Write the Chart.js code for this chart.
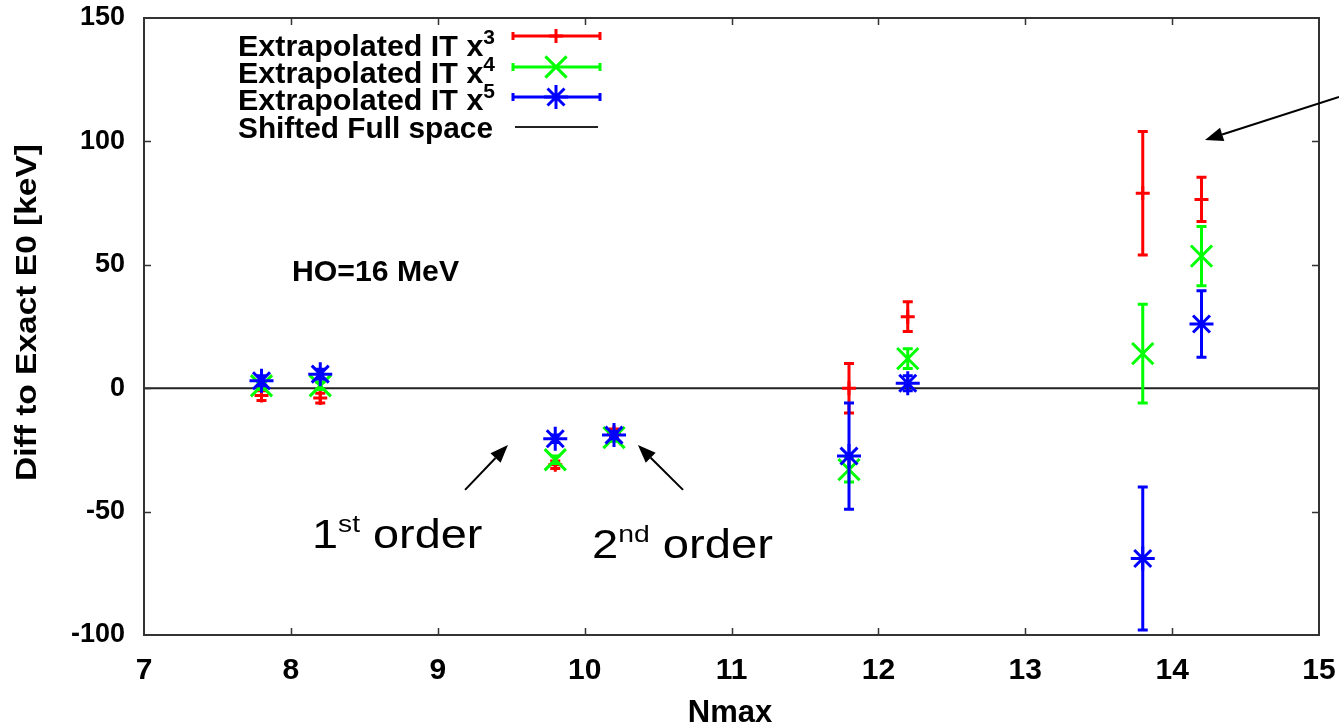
<!DOCTYPE html>
<html lang="en">
<head>
<meta charset="UTF-8">
<title>Diff to Exact E0 vs Nmax</title>
<script src="https://cdn.jsdelivr.net/npm/chart.js"></script>
<style>
  html, body { margin: 0; padding: 0; background: #fff; }
  #chart { display: block; }
</style>
</head>
<body>
<canvas id="chart" width="1339" height="727"></canvas>
<script>
// values (keV)
const nmax   = [7.8, 8.2, 9.8, 10.2, 11.8, 12.2, 13.8, 14.2];
const it3    = [-3, -4, -31, -18, 0, 29, 79, 76.5];
const it3Err = [2, 2, 1.5, 1.5, 10, 6, 25, 9];
const it4    = [1, 1, -29, -20, -33, 12, 14, 53.5];
const it4Err = [1.5, 1.5, 1.5, 1.5, 5, 4, 20, 12];
const it5    = [3, 5.7, -20.5, -19, -27.5, 2, -69, 26];
const it5Err = [2, 2, 1.5, 1.5, 21.5, 3, 29, 13.5];

const fullSpaceX = [7, 15];
const fullSpaceY = [0, 0];

const xTicks = [7, 8, 9, 10, 11, 12, 13, 14, 15];
const yTicks = [-100, -50, 0, 50, 100, 150];

const FONT = '"Liberation Sans", Arial, sans-serif';

function pts(xs, ys) {
    return xs.map((x, i) => ({ x: x, y: ys[i] }));
}

// text squeezed/stretched to a given width
function fitText(ctx, str, x, y, font, width, align) {
    ctx.save();
    ctx.font = font;
    const w = ctx.measureText(str).width;
    const sx = width ? width / w : 1;
    ctx.translate(x, y);
    ctx.scale(sx, 1);
    ctx.textAlign = align || 'left';
    ctx.textBaseline = 'alphabetic';
    ctx.fillText(str, 0, 0);
    ctx.restore();
}

// "1st order" style label: big number, superscript, rest
function ordinal(ctx, num, sup, rest, left, base, right) {
    ctx.save();
    const big = '40px ' + FONT, small = '24px ' + FONT;
    ctx.font = big;
    const w1 = ctx.measureText(num).width;
    const w3 = ctx.measureText(rest).width;
    ctx.font = small;
    const w2 = ctx.measureText(sup).width;
    const sx = (right - left) / (w1 + w2 + w3);
    ctx.translate(left, base);
    ctx.scale(sx, 1);
    ctx.fillStyle = '#000';
    ctx.textBaseline = 'alphabetic';
    ctx.font = big;
    ctx.fillText(num, 0, 0);
    ctx.font = small;
    ctx.fillText(sup, w1, -16);
    ctx.font = big;
    ctx.fillText(rest, w1 + w2, 0);
    ctx.restore();
}

function arrow(ctx, x1, y1, x2, y2) {
    const a = Math.atan2(y2 - y1, x2 - x1);
    const len = 18, hw = 7;
    const bx = x2 - len * Math.cos(a), by = y2 - len * Math.sin(a);
    ctx.save();
    ctx.strokeStyle = '#000';
    ctx.fillStyle = '#000';
    ctx.lineWidth = 2;
    ctx.beginPath();
    ctx.moveTo(x1, y1);
    ctx.lineTo(bx, by);
    ctx.stroke();
    ctx.beginPath();
    ctx.moveTo(x2, y2);
    ctx.lineTo(bx + hw * Math.sin(a), by - hw * Math.cos(a));
    ctx.lineTo(bx - hw * Math.sin(a), by + hw * Math.cos(a));
    ctx.closePath();
    ctx.fill();
    ctx.restore();
}

function errorBar(ctx, x, y1, y2, color) {
    ctx.save();
    ctx.strokeStyle = color;
    ctx.lineWidth = 3;
    ctx.beginPath();
    ctx.moveTo(x, y1); ctx.lineTo(x, y2);
    ctx.moveTo(x - 5, y1); ctx.lineTo(x + 5, y1);
    ctx.moveTo(x - 5, y2); ctx.lineTo(x + 5, y2);
    ctx.stroke();
    ctx.restore();
}

const errorBars = {
    id: 'errorBars',
    beforeDatasetDraw(chart, args) {
        const ds = chart.data.datasets[args.index];
        if (!ds.errors) return;
        const xs = chart.scales.x, ys = chart.scales.y;
        ds.data.forEach((p, i) => {
            const e = ds.errors[i];
            errorBar(chart.ctx, xs.getPixelForValue(p.x),
                ys.getPixelForValue(p.y - e), ys.getPixelForValue(p.y + e), ds.borderColor);
        });
    }
};

const frameAndText = {
    id: 'frameAndText',
    afterDraw(chart) {
        const ctx = chart.ctx, a = chart.chartArea;
        const xs = chart.scales.x, ys = chart.scales.y;

        // frame with inward mirror ticks
        ctx.save();
        ctx.strokeStyle = '#333';
        ctx.lineWidth = 2;
        ctx.strokeRect(a.left, a.top, a.right - a.left, a.bottom - a.top);
        ctx.lineWidth = 1.5;
        ctx.beginPath();
        xTicks.slice(1, -1).forEach(v => {
            const px = Math.round(xs.getPixelForValue(v)) + 0.5;
            ctx.moveTo(px, a.bottom); ctx.lineTo(px, a.bottom - 7);
            ctx.moveTo(px, a.top); ctx.lineTo(px, a.top + 7);
        });
        yTicks.slice(1, -1).forEach(v => {
            const py = Math.round(ys.getPixelForValue(v)) + 0.5;
            ctx.moveTo(a.left, py); ctx.lineTo(a.left + 7, py);
            ctx.moveTo(a.right, py); ctx.lineTo(a.right - 7, py);
        });
        ctx.stroke();
        ctx.restore();

        ctx.fillStyle = '#000';

        // axis titles
        fitText(ctx, 'Nmax', 730, 722, 'bold 31px ' + FONT, 0, 'center');
        ctx.save();
        ctx.translate(36, (a.top + a.bottom) / 2 - 14);
        ctx.rotate(-Math.PI / 2);
        fitText(ctx, 'Diff to Exact E0 [keV]', 0, 0, 'bold 30px ' + FONT, 337, 'center');
        ctx.restore();

        // legend
        const rows = [
            { sup: '3', ds: chart.data.datasets[0], line: 36, base: 56 },
            { sup: '4', ds: chart.data.datasets[1], line: 67, base: 83 },
            { sup: '5', ds: chart.data.datasets[2], line: 97, base: 110 }
        ];
        rows.forEach(r => {
            ctx.save();
            const bigF = 'bold 29px ' + FONT, supF = 'bold 20px ' + FONT;
            ctx.font = bigF;
            const wMain = ctx.measureText('Extrapolated IT x').width;
            ctx.font = supF;
            const wSup = ctx.measureText(r.sup).width;
            const sx = (495 - 238) / (wMain + wSup);
            ctx.translate(238, r.base);
            ctx.scale(sx, 1);
            ctx.font = bigF;
            ctx.fillText('Extrapolated IT x', 0, 0);
            ctx.font = supF;
            ctx.fillText(r.sup, wMain, -12);
            ctx.restore();

            ctx.save();
            ctx.strokeStyle = r.ds.borderColor;
            ctx.lineWidth = 3;
            ctx.beginPath();
            ctx.moveTo(513, r.line); ctx.lineTo(600, r.line);
            ctx.moveTo(513, r.line - 4); ctx.lineTo(513, r.line + 4);
            ctx.moveTo(600, r.line - 4); ctx.lineTo(600, r.line + 4);
            ctx.stroke();
            Chart.helpers.drawPoint(ctx, {
                pointStyle: r.ds.pointStyle,
                radius: r.ds.pointRadius,
                rotation: 0,
                borderWidth: 3
            }, 556, r.line);
            ctx.restore();
        });
        fitText(ctx, 'Shifted Full space', 238, 138, 'bold 29px ' + FONT, 255);
        ctx.save();
        ctx.strokeStyle = '#222';
        ctx.lineWidth = 2;
        ctx.beginPath();
        ctx.moveTo(515, 127); ctx.lineTo(598, 127);
        ctx.stroke();
        ctx.restore();

        // annotations, placed in data coordinates
        const X = v => xs.getPixelForValue(v), Y = v => ys.getPixelForValue(v);
        fitText(ctx, 'HO=16 MeV', X(8.008), Y(43.4), 'bold 30px ' + FONT, 167);
        ordinal(ctx, '1', 'st', ' order', X(8.144), Y(-64.8), X(9.304));
        ordinal(ctx, '2', 'nd', ' order', X(10.050), Y(-68.8), X(11.283));
        arrow(ctx, X(9.186), Y(-41.2), X(9.478), Y(-23.0));
        arrow(ctx, X(10.670), Y(-41.2), X(10.363), Y(-23.0));
        arrow(ctx, X(15.136), Y(118.0), X(14.224), Y(100.6));
    }
};

function series(label, ys, errs, color, style, radius, order) {
    return {
        label: label,
        data: pts(nmax, ys),
        errors: errs,
        borderColor: color,
        backgroundColor: color,
        pointBorderColor: color,
        pointBackgroundColor: color,
        pointStyle: style,
        pointRadius: radius,
        pointHoverRadius: radius,
        pointBorderWidth: 3,
        showLine: false,
        order: order
    };
}

new Chart(document.getElementById('chart').getContext('2d'), {
    type: 'scatter',
    data: {
        datasets: [
            series('Extrapolated IT x3', it3, it3Err, '#ff0000', 'cross', 7, 3),
            series('Extrapolated IT x4', it4, it4Err, '#00ff00', 'crossRot', 15, 2),
            series('Extrapolated IT x5', it5, it5Err, '#0000ff', 'star', 12, 1),
            {
                type: 'line',
                label: 'Shifted Full space',
                data: pts(fullSpaceX, fullSpaceY),
                borderColor: '#222',
                borderWidth: 2,
                pointRadius: 0,
                order: 4
            }
        ]
    },
    options: {
        responsive: false,
        devicePixelRatio: 1,
        animation: false,
        events: [],
        layout: { padding: { top: 18, right: 20, left: 0, bottom: 0 } },
        plugins: {
            legend: { display: false },
            tooltip: { enabled: false }
        },
        scales: {
            x: {
                type: 'linear',
                min: xTicks[0],
                max: xTicks[xTicks.length - 1],
                afterBuildTicks: s => { s.ticks = xTicks.map(v => ({ value: v })); },
                afterFit: s => { s.height = 92; s.paddingLeft = 0; s.paddingRight = 0; },
                grid: { display: false, drawTicks: false },
                border: { display: false },
                ticks: {
                    color: '#000',
                    padding: 18,
                    maxRotation: 0,
                    font: { family: FONT, size: 30, weight: 'bold' }
                }
            },
            y: {
                type: 'linear',
                min: yTicks[0],
                max: yTicks[yTicks.length - 1],
                afterBuildTicks: s => { s.ticks = yTicks.map(v => ({ value: v })); },
                afterFit: s => { s.width = 144; s.paddingTop = 0; s.paddingBottom = 0; },
                grid: { display: false, drawTicks: false },
                border: { display: false },
                ticks: {
                    color: '#000',
                    padding: 19,
                    font: { family: FONT, size: 27, weight: 'bold' }
                }
            }
        }
    },
    plugins: [errorBars, frameAndText]
});
</script>
</body>
</html>
